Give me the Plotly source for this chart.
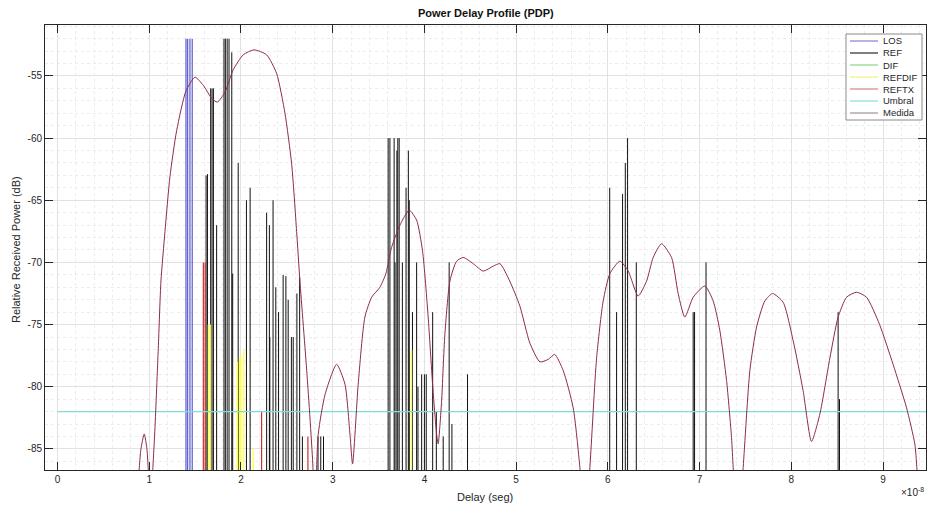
import plotly.graph_objects as go

# ---------------- data (delay in units of 1e-8 s, power in dB) ----------------
los_delay = [1.401, 1.419, 1.444, 1.469]
los_power = [-52, -52, -52, -52]

ref_delay = [1.62, 1.635, 1.67, 1.685, 1.70, 1.735, 1.815, 1.83, 1.85, 1.87,
             1.90, 1.91, 1.97, 2.06, 2.10, 2.28, 2.31, 2.315, 2.35, 2.38,
             2.41, 2.46, 2.49, 2.515, 2.55, 2.57, 2.61, 2.64, 2.67, 2.84,
             2.87, 2.90, 3.605, 3.624, 3.67, 3.68, 3.70, 3.71, 3.725, 3.76,
             3.80, 3.825, 3.835, 3.87, 3.915, 3.93, 3.97, 4.00, 4.02, 4.09,
             4.13, 4.205, 4.27, 4.30, 4.47, 6.02, 6.095, 6.16, 6.19, 6.215,
             6.31, 6.93, 6.945, 7.07, 8.51, 8.525]
ref_power = [-63, -62.9, -56, -56, -56, -67, -52, -52, -52, -52,
             -53.1, -70.9, -62, -65, -64, -66, -67, -76, -65, -72,
             -74, -71, -71.1, -73, -76, -76, -72.5, -71.2, -84, -84,
             -84, -84, -60, -60, -60, -70, -61, -60, -60, -70,
             -64, -61, -65, -74, -70, -80, -79, -79, -79, -74,
             -82, -84, -70, -83, -79, -64, -74, -64.5, -62, -60,
             -70, -74, -74, -70, -74, -81]

dif_delay = []
dif_power = []

refdif_delay = [1.645, 1.665, 1.96, 1.985, 2.00, 2.03, 2.135, 3.86]
refdif_power = [-75, -75, -78, -77.7, -77.5, -77, -85, -77]

reftx_delay = [1.59, 1.61, 2.225, 2.73]
reftx_power = [-70, -70, -82, -84]

umbral_delay = [0, 9.47]
umbral_power = [-82, -82]

medida_delay = [0.85, 0.892, 0.91, 0.946, 0.975, 0.99, 1.01, 1.04, 1.063, 1.099,
                1.128, 1.172, 1.226, 1.299, 1.401, 1.499, 1.589, 1.681, 1.742, 1.826,
                1.916, 2.025, 2.142, 2.280, 2.389, 2.480, 2.553, 2.607, 2.643, 2.72,
                2.785, 2.80, 2.843, 2.918, 3.043, 3.134, 3.188, 3.217, 3.278, 3.351,
                3.425, 3.515, 3.580, 3.642, 3.733, 3.834, 3.915, 3.980, 4.041, 4.089,
                4.133, 4.150, 4.187, 4.223, 4.278, 4.351, 4.423, 4.532, 4.641, 4.750,
                4.823, 4.93, 5.04, 5.15, 5.26, 5.35, 5.42, 5.513, 5.622, 5.695,
                5.75, 5.804, 5.877, 5.949, 6.022, 6.131, 6.222, 6.330, 6.422, 6.494,
                6.585, 6.694, 6.766, 6.839, 6.930, 7.057, 7.148, 7.221, 7.294, 7.348,
                7.366, 7.42, 7.475, 7.548, 7.621, 7.711, 7.795, 7.910, 8.020, 8.128,
                8.220, 8.311, 8.420, 8.510, 8.602, 8.711, 8.820, 8.962, 9.109, 9.256,
                9.346, 9.368, 9.40]
medida_power = [-92, -86.5, -85, -83.8, -85, -86.7, -90, -86.5, -83.3, -76.9,
                -71.5, -67.5, -63.1, -59.4, -56.2, -55.1, -55.75, -56.8, -57.1, -56.3,
                -54.5, -53.3, -52.9, -53.3, -54.8, -58, -62.1, -67.5, -71.5, -79,
                -86.5, -92, -83.8, -80.6, -78.2, -79.8, -83.8, -86.2, -79.8, -74.4,
                -72.8, -72.0, -70.9, -68.8, -67.0, -65.8, -66.6, -69.1, -74.4, -79.8,
                -83.8, -84.6, -81.2, -75.8, -71.5, -69.9, -69.6, -70.1, -70.7, -70.3,
                -70.1, -71.5, -73.5, -76.5, -78.0, -77.8, -77.4, -78.7, -81.7, -86.5,
                -92, -86.5, -77.7, -73.1, -70.9, -69.9, -70.7, -72.7, -71.5, -69.6,
                -68.5, -69.6, -72.5, -74.4, -72.8, -71.9, -73.1, -75.5, -79.5, -84.1,
                -86.5, -92, -86.5, -78.7, -75.2, -73.1, -72.5, -73.2, -76.3, -80.3,
                -84.4, -82.2, -77.7, -74.4, -72.8, -72.4, -72.8, -75.0, -78.2, -81.7,
                -84.6, -86.5, -92]

x_tick_vals = [0, 1, 2, 3, 4, 5, 6, 7, 8, 9]
y_tick_vals = [-85, -80, -75, -70, -65, -60, -55]

legend_names = ["LOS", "REF", "DIF", "REFDIF", "REFTX", "Umbral", "Medida"]
legend_colors = ["#8c8cd8", "#3a3a3a", "#8fd88f", "#f2f28a", "#d88c8c", "#8ee0e0", "#a898a8"]

# ---------------- styling ----------------
X_RANGE = [-0.136, 9.468]
Y_RANGE = [-86.7, -50.9]
Y_FLOOR = -100  # stems start below the visible range
W, H = 929, 506
ML, MR, MT, MB = 45, 3, 25, 36
FONT = "Liberation Sans, Arial, Helvetica, sans-serif"
AX = "#262626"


def stems(xs, ys):
    X, Y = [], []
    for x, y in zip(xs, ys):
        X += [x, x, None]
        Y += [Y_FLOOR, y, None]
    return X, Y


fig = go.Figure()

series = [
    ("LOS", los_delay, los_power, "#5c5cd0", 1.2),
    ("REF", ref_delay, ref_power, "#111111", 1.0),
    ("DIF", dif_delay, dif_power, "#33b833", 1.0),
    ("REFDIF", refdif_delay, refdif_power, "#ffff55", 1.4),
    ("REFTX", reftx_delay, reftx_power, "#c83030", 1.2),
]
for name, xs, ys, col, w in series:
    X, Y = stems(xs, ys)
    if not X:
        X, Y = [None], [None]
    fig.add_trace(go.Scatter(x=X, y=Y, mode="lines", name=name, showlegend=False,
                             line=dict(color=col, width=w), hoverinfo="skip"))

fig.add_trace(go.Scatter(x=umbral_delay, y=umbral_power, mode="lines", name="Umbral",
                         showlegend=False, line=dict(color="#7fdcdc", width=1.2)))
fig.add_trace(go.Scatter(x=medida_delay, y=medida_power, mode="lines", name="Medida",
                         showlegend=False, line=dict(color="#8e2c48", width=1, shape="spline", smoothing=0.6)))

pw = W - ML - MR
ph = H - MT - MB


def px(xp):
    return (xp - ML) / pw


def py(yp):
    return (H - MB - yp) / ph


shapes = []
annotations = []

# manual legend (MATLAB-like)
bx0, bx1, by0, by1 = 846, 922, 34, 120
shapes.append(dict(type="rect", xref="paper", yref="paper", x0=px(bx0), x1=px(bx1),
                   y0=py(by1), y1=py(by0), line=dict(color="#8a8a8a", width=1),
                   fillcolor="white", layer="above"))
for i, (nm, col) in enumerate(zip(legend_names, legend_colors)):
    yy = 41 + 12 * i
    shapes.append(dict(type="line", xref="paper", yref="paper", x0=px(850), x1=px(878),
                       y0=py(yy), y1=py(yy), line=dict(color=col, width=1.3), layer="above"))
    annotations.append(dict(xref="paper", yref="paper", x=px(881), y=py(yy), text=nm,
                            showarrow=False, xanchor="left", yanchor="middle",
                            font=dict(family=FONT, size=9.5, color=AX)))

# titles
annotations.append(dict(xref="paper", yref="paper", x=px((ML + W - MR) / 2), y=py(13),
                        text="<b>Power Delay Profile (PDP)</b>", showarrow=False,
                        xanchor="center", yanchor="middle",
                        font=dict(family=FONT, size=11, color="#111111")))
annotations.append(dict(xref="paper", yref="paper", x=px(485), y=py(497),
                        text="Delay (seg)", showarrow=False, xanchor="center", yanchor="middle",
                        font=dict(family=FONT, size=11, color=AX)))
annotations.append(dict(xref="paper", yref="paper", x=px(16), y=py(250),
                        text="Relative Received Power (dB)", showarrow=False, textangle=-90,
                        xanchor="center", yanchor="middle",
                        font=dict(family=FONT, size=11, color=AX)))
annotations.append(dict(xref="paper", yref="paper", x=px(926), y=py(492),
                        text="\u00d710<sup>-8</sup>", showarrow=False, xanchor="right",
                        yanchor="middle", font=dict(family=FONT, size=10, color=AX)))

axis_common = dict(
    showline=True, linecolor=AX, linewidth=1, mirror="allticks",
    ticks="inside", ticklen=8, tickwidth=1, tickcolor=AX,
    showgrid=True, gridcolor="#e2e2e2", gridwidth=1,
    zeroline=False, tickfont=dict(family=FONT, size=10, color=AX),
)

fig.update_layout(
    width=W, height=H,
    margin=dict(l=ML, r=MR, t=MT, b=MB, autoexpand=False),
    paper_bgcolor="white", plot_bgcolor="white",
    showlegend=False,
    shapes=shapes, annotations=annotations,
    xaxis=dict(range=X_RANGE, tickmode="array", tickvals=x_tick_vals,
               ticktext=[str(v) for v in x_tick_vals],
               minor=dict(dtick=0.2, tick0=0, showgrid=True, gridcolor="#ececec",
                          griddash="dot", ticks=""),
               **axis_common),
    yaxis=dict(range=Y_RANGE, tickmode="array", tickvals=y_tick_vals,
               ticktext=[str(v) for v in y_tick_vals],
               minor=dict(dtick=1, tick0=0, showgrid=True, gridcolor="#ececec",
                          griddash="dot", ticks=""),
               **axis_common),
)

fig.write_html("out.html")
